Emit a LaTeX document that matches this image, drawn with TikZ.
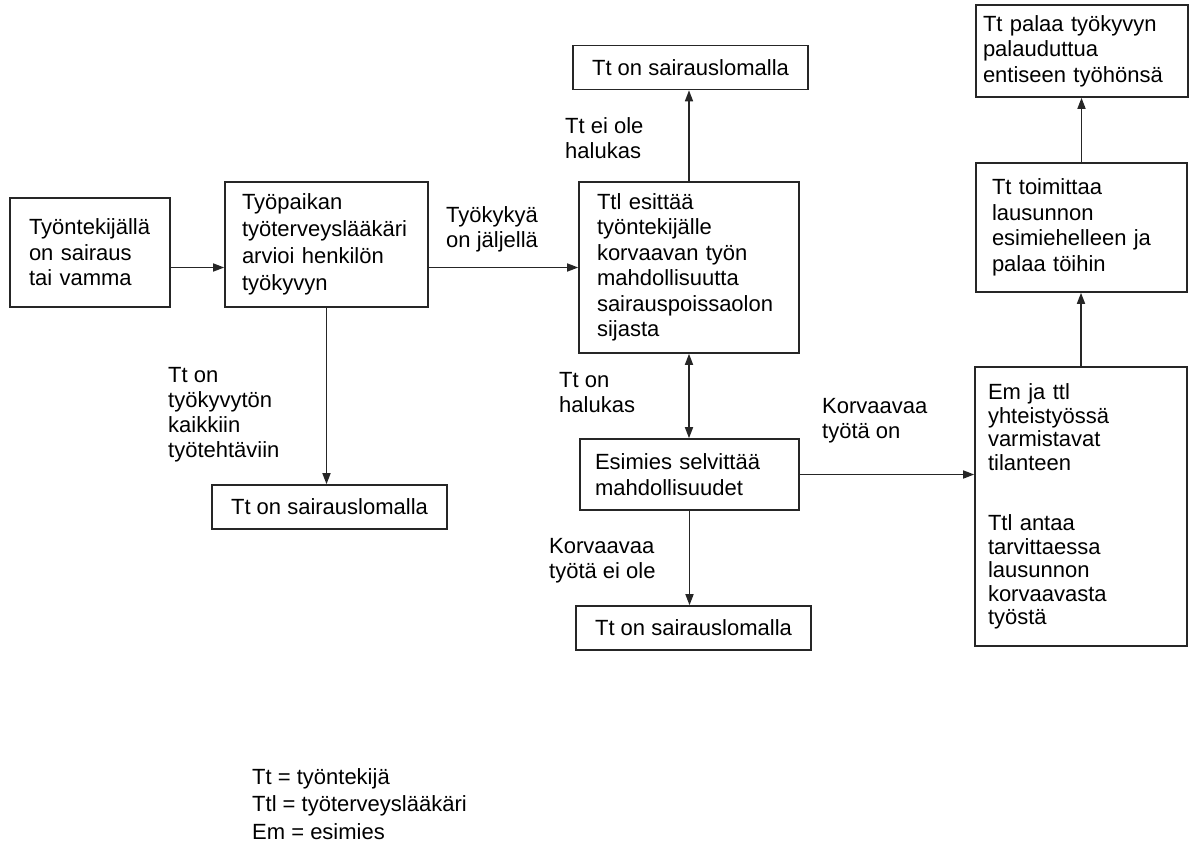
\documentclass[tikz,border=0pt]{standalone}
\usepackage{fontspec}
\setmainfont{Liberation Sans}
\usetikzlibrary{arrows.meta}

\begin{document}
\begin{tikzpicture}[x=1pt,y=-1pt,
    box/.style={draw=black!85, line width=1.6pt, inner sep=0pt, align=left, font=\fontsize{22}{25.5}\selectfont},
    sickbox/.style={box, align=center, minimum width=235pt, minimum height=44pt},
    lbl/.style={inner sep=0pt, align=left, anchor=base west, font=\fontsize{22}{25}\selectfont},
    arr/.style={draw=black!85, line width=1.6pt, -{Triangle[length=11pt,width=8pt]}},
    darr/.style={arr, {Triangle[length=11pt,width=8pt]}-{Triangle[length=11pt,width=8pt]}}]
        \useasboundingbox (0,0) rectangle (1189,849);
        \node[box, text width=122pt, minimum width=160pt, minimum height=109pt] (ill) at (90,252.5) {Työntekijällä\\on sairaus\\tai vamma};
        \node[box, text width=169pt, minimum width=203pt, minimum height=125pt, font=\fontsize{22}{27}\selectfont] (assess) at (326.5,244.5) {Työpaikan\\työterveyslääkäri\\arvioi henkilön\\työkyvyn};
        \node[box, text width=184pt, minimum width=220pt, minimum height=171pt] (task) at (689,267.5) {Ttl esittää\\työntekijälle\\korvaavan työn\\mahdollisuutta\\sairauspoissaolon\\sijasta};
        \node[sickbox] (sickTop) at (690.5,67.5) {Tt on sairauslomalla};
        \node[sickbox] (sickLeft) at (329.5,507) {Tt on sairauslomalla};
        \node[box, text width=189pt, minimum width=219pt, minimum height=71pt] (sup) at (689.5,474.5) {Esimies selvittää\\mahdollisuudet};
        \node[sickbox] (sickBot) at (693.5,628) {Tt on sairauslomalla};
        \node[box, text width=186pt, minimum width=212pt, minimum height=279pt, font=\fontsize{22}{23.5}\selectfont] (joint) at (1081,506.5) {Em ja ttl\\yhteistyössä\\varmistavat\\tilanteen\\[37pt]Ttl antaa\\tarvittaessa\\lausunnon\\korvaavasta\\työstä};
        \node[box, text width=179pt, minimum width=211pt, minimum height=129pt] (stmt) at (1081.5,227.5) {Tt toimittaa\\lausunnon\\esimiehelleen ja\\palaa töihin};
        \node[box, text width=198pt, minimum width=212pt, minimum height=92pt] (back) at (1082,51) {Tt palaa työkyvyn\\palauduttua\\entiseen työhönsä};

        \draw[arr] (ill.east |- task.west) -- (assess.west |- task.west);
        \draw[arr] (assess.east |- task.west) -- (task.west);
        \draw[arr] (assess.south) -- (assess.south |- sickLeft.north);
        \draw[arr] (task.north) -- (task.north |- sickTop.south);
        \draw[darr] (task.south) -- (task.south |- sup.north);
        \draw[arr] (sup.south) -- (sup.south |- sickBot.north);
        \draw[arr] (sup.east) -- (sup.east -| joint.west);
        \draw[arr] (joint.north) -- (joint.north |- stmt.south);
        \draw[arr] (stmt.north) -- (stmt.north |- back.south);

        \node[lbl] (lremain) at (446,247) {Työkykyä\\on jäljellä};
        \node[lbl] (lunwill) at (565,158) {Tt ei ole\\halukas};
        \node[lbl] (lwill) at (559,412) {Tt on\\halukas};
        \node[lbl] (lhas) at (822,438) {Korvaavaa\\työtä on};
        \node[lbl] (lnone) at (549,578) {Korvaavaa\\työtä ei ole};
        \node[lbl] (lunable) at (168,457) {Tt on\\työkyvytön\\kaikkiin\\työtehtäviin};
        \node[lbl, font=\fontsize{22}{27.5}\selectfont] (legend) at (252,839) {Tt = työntekijä\\Ttl = työterveyslääkäri\\Em = esimies};
    \end{tikzpicture}
\end{document}
